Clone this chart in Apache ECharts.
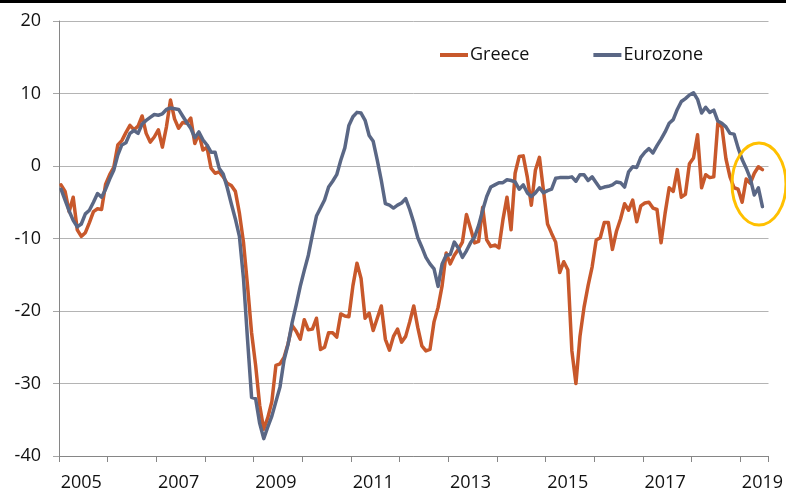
<!DOCTYPE html>
<html>
<head>
<meta charset="utf-8">
<script src="https://cdn.jsdelivr.net/npm/echarts@6/dist/echarts.min.js"></script>
<style>
html,body{margin:0;padding:0;background:#fff;}
#chart{width:786px;height:492px;}
</style>
</head>
<body>
<div id="chart"></div>
<script>
// Monthly categories Jan 2005 .. Jul 2019
const years = [2005,2006,2007,2008,2009,2010,2011,2012,2013,2014,2015,2016,2017,2018,2019];
const lastYearMonths = 7;
const yTicks = [-40, -30, -20, -10, 0, 10, 20];

const greece = [
  -2.6, -3.5, -6.3, -4.3, -8.8, -9.7, -9.2, -7.8, -6.3, -5.9, -6.0, -2.5,
  -1.2, -0.2, 2.9, 3.5, 4.6, 5.6, 5.0, 5.5, 6.9, 4.5, 3.3, 4.0,
  5.0, 2.6, 5.4, 9.1, 6.5, 5.2, 6.0, 5.9, 6.6, 3.1, 4.5, 2.2,
  2.6, -0.3, -1.0, -0.8, -1.5, -2.4, -2.7, -3.5, -6.5, -10.5, -16.5, -23.0,
  -27.5, -33.0, -36.3, -34.7, -32.5, -27.5, -27.3, -26.4, -24.5, -22.0, -22.8, -23.9,
  -21.2, -22.6, -22.5, -21.0, -25.3, -25.0, -23.0, -23.0, -23.6, -20.4, -20.7, -20.8,
  -16.5, -13.4, -15.5, -21.0, -20.3, -22.7, -21.0, -19.3, -23.9, -25.4, -23.5, -22.5,
  -24.3, -23.5, -21.5, -19.3, -22.3, -24.8, -25.5, -25.3, -21.5, -19.5, -16.5, -12.0,
  -13.5, -12.3, -11.5, -10.5, -6.7, -8.6, -10.6, -10.4, -5.7, -10.2, -11.1, -10.9,
  -11.3, -7.4, -4.3, -8.8, -1.0, 1.3, 1.4, -1.5, -5.4, -0.6, 1.2, -3.4,
  -8.0, -9.3, -10.5, -14.7, -13.2, -14.3, -25.5, -30.0, -23.5, -19.5, -16.5, -13.9,
  -10.2, -9.9, -7.8, -7.8, -11.5, -9.0, -7.3, -5.2, -6.1, -4.7, -7.7, -5.5,
  -5.1, -5.0, -5.8, -6.0, -10.6, -6.5, -3.0, -3.5, -0.5, -4.3, -3.9, 0.3,
  1.1, 4.3, -3.0, -1.2, -1.6, -1.5, 5.9, 5.4, 1.0, -1.5, -3.0, -3.2,
  -5.0, -1.8, -2.4, -1.0, -0.1, -0.5, null
];

const eurozone = [
  -3.2, -4.7, -6.2, -7.5, -8.4, -8.0, -6.6, -6.1, -5.0, -3.8, -4.3, -3.2,
  -1.8, -0.6, 1.5, 2.9, 3.2, 4.5, 4.9, 4.5, 5.8, 6.3, 6.7, 7.1,
  7.0, 7.2, 7.8, 8.0, 7.9, 7.8, 6.9, 6.0, 5.2, 3.9, 4.7, 3.6,
  2.9, 1.9, 1.9, -0.3, -1.1, -3.0, -5.2, -7.3, -9.7, -15.5, -23.9, -31.9,
  -32.1, -35.5, -37.6, -36.0, -34.5, -32.5, -30.5, -26.8, -24.6, -21.6, -19.2, -16.6,
  -14.4, -12.3, -9.5, -6.9, -5.8, -4.7, -2.9, -2.1, -1.2, 0.8, 2.5, 5.6,
  6.8, 7.4, 7.3, 6.3, 4.2, 3.4, 0.8, -2.0, -5.2, -5.4, -5.8, -5.4,
  -5.1, -4.5, -6.0, -7.8, -9.9, -11.2, -12.6, -13.5, -14.2, -16.6, -13.5, -12.3,
  -12.2, -10.5, -11.3, -12.6, -11.7, -10.6, -9.8, -8.2, -6.1, -4.2, -2.9, -2.6,
  -2.3, -2.3, -1.9, -2.0, -2.2, -3.2, -2.6, -3.7, -4.2, -3.7, -3.0, -3.7,
  -3.4, -3.2, -1.7, -1.6, -1.6, -1.6, -1.5, -2.1, -1.2, -1.2, -2.0, -1.5,
  -2.3, -3.1, -2.9, -2.8, -2.6, -2.2, -2.3, -2.9, -0.8, -0.1, -0.2, 1.2,
  1.9, 2.4, 1.8, 2.8, 3.7, 4.7, 5.9, 6.4, 7.8, 8.9, 9.3, 9.8,
  10.1, 9.2, 7.3, 8.1, 7.4, 7.7, 6.2, 5.9, 5.4, 4.5, 4.4, 2.5,
  0.9, -0.3, -1.7, -4.0, -3.0, -5.6, null
];

const categories = [];
years.forEach(function (y, yi) {
  const n = (yi === years.length - 1) ? lastYearMonths : 12;
  for (let m = 1; m <= n; m++) categories.push(y + '-' + (m < 10 ? '0' + m : m));
});

const FONT = 'Open Sans';
const chart = echarts.init(document.getElementById('chart'), null, {renderer: 'canvas'});
chart.setOption({
  animation: false,
  backgroundColor: '#ffffff',
  grid: {left: 59, right: 14, top: 21, bottom: 35, containLabel: false},
  legend: {
    data: ['Greece', 'Eurozone'],
    left: 440,
    top: 46,
    padding: 0,
    icon: 'rect',
    itemWidth: 28,
    itemHeight: 4,
    itemGap: 64,
    textStyle: {fontFamily: FONT, fontSize: 18, color: '#111', padding: [0, 0, 0, -3]}
  },
  xAxis: {
    type: 'category',
    data: categories,
    boundaryGap: true,
    axisLine: {onZero: false, lineStyle: {color: '#868686', width: 1}},
    axisTick: {
      show: true, length: 6,
      interval: function (index) { return index % 12 === 0; },
      lineStyle: {color: '#868686'}
    },
    axisLabel: {
      interval: function (index) { return index % 24 === 5; },
      formatter: function (v) { return v.slice(0, 4); },
      fontFamily: FONT, fontSize: 18, color: '#111', margin: 18
    },
    splitLine: {show: false}
  },
  yAxis: {
    type: 'value',
    min: yTicks[0],
    max: yTicks[yTicks.length - 1],
    interval: 10,
    axisLine: {show: true, lineStyle: {color: '#868686'}},
    axisTick: {show: true, length: 6, lineStyle: {color: '#a6a6a6'}},
    axisLabel: {fontFamily: FONT, fontSize: 18, color: '#111', margin: 18},
    splitLine: {show: true, lineStyle: {color: '#b4b4b4', width: 1}}
  },
  series: [
    {
      name: 'Greece', type: 'line', data: greece,
      showSymbol: false, symbol: 'none',
      lineStyle: {color: '#C8582B', width: 3.5, cap: 'round', join: 'round'},
      itemStyle: {color: '#C8582B'}, z: 2
    },
    {
      name: 'Eurozone', type: 'line', data: eurozone,
      showSymbol: false, symbol: 'none',
      lineStyle: {color: '#5A6785', width: 3.5, cap: 'round', join: 'round'},
      itemStyle: {color: '#5A6785'}, z: 3
    }
  ],
  graphic: [
    {type: 'rect', shape: {x: 0, y: 0, width: 786, height: 3}, style: {fill: '#000'}, z: 100},
    {type: 'ellipse', shape: {cx: 759, cy: 184, rx: 27, ry: 41},
     style: {fill: 'none', stroke: '#FFC000', lineWidth: 3}, z: 100}
  ]
});
</script>
</body>
</html>
